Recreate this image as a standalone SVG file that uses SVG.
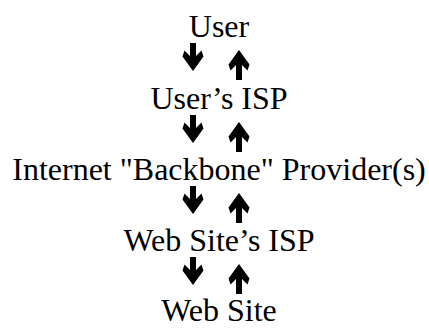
<svg xmlns="http://www.w3.org/2000/svg" width="429" height="328" viewBox="0 0 429 328">
<style>
.t{font-family:"Liberation Serif","Times New Roman",serif;font-size:32px;fill:#000;text-anchor:middle}
.a{fill:#000}
</style>
<defs>
<path id="dn" d="M-3,0 L3,0 L3,13 L8.5,7.5 L10.5,13.5 L0,28 L-10.5,13.5 L-8.5,7.5 L-3,13 Z"/>
<path id="up" d="M-3,30 L3,30 L3,15 L8.5,20.5 L10.5,14.5 L0,0 L-10.5,14.5 L-8.5,20.5 L-3,15 Z"/>
</defs>
<rect width="429" height="328" fill="#fff"/>
<g id="n1"><text class="t" x="219" y="37">User</text></g>
<g id="n2"><text class="t" x="219" y="109">User’s ISP</text></g>
<g id="n3"><text class="t" x="219" y="180">Internet "Backbone" Provider(s)</text></g>
<g id="n4"><text class="t" x="219" y="251">Web Site’s ISP</text></g>
<g id="n5"><text class="t" x="219" y="321">Web Site</text></g>
<g id="connectors" class="a">
<use href="#dn" x="193" y="43"/><use href="#up" x="239" y="50"/>
<use href="#dn" x="193" y="115"/><use href="#up" x="239" y="122"/>
<use href="#dn" x="193" y="186"/><use href="#up" x="239" y="193"/>
<use href="#dn" x="193" y="257"/><use href="#up" x="239" y="264"/>
</g>
</svg>
